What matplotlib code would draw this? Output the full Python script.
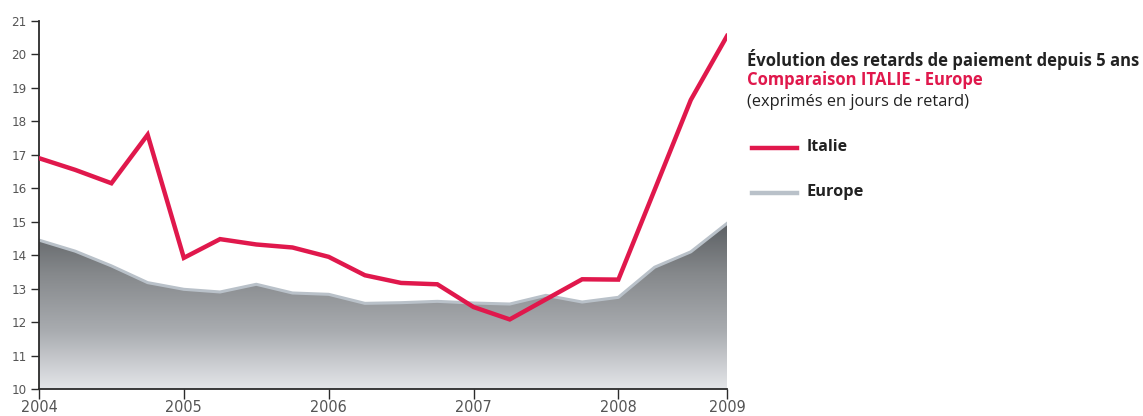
import numpy as np
import matplotlib
matplotlib.use("Agg")
import matplotlib.pyplot as plt
from matplotlib.colors import LinearSegmentedColormap

# quarterly readings, 2004 Q1 -> end of period
italie = [16.9, 16.55, 16.15, 17.6, 13.92, 14.48, 14.32, 14.23, 13.95, 13.4,
          13.17, 13.13, 12.45, 12.08, 12.68, 13.28, 13.27, 15.95, 18.64, 20.55]
europe = [14.45, 14.12, 13.68, 13.18, 12.98, 12.9, 13.13, 12.87, 12.83, 12.56,
          12.58, 12.62, 12.57, 12.54, 12.8, 12.6, 12.74, 13.64, 14.1, 14.95]
year_pos = [0, 4, 8, 12, 16, 19]
year_labels = ["2004", "2005", "2006", "2007", "2008", "2009"]
y_ticks = list(range(10, 22))

RED = "#e0184c"
EDGE = "#b9c1c9"
AXIS = "#2b2b2b"
plt.rcParams["font.family"] = ["Open Sans", "DejaVu Sans"]

fig = plt.figure(figsize=(11.43, 4.16), dpi=100)
ax = fig.add_axes([39 / 1143, 27 / 416, 688 / 1143, 368 / 416])

x = np.arange(len(italie))

# grey area for Europe with a vertical gradient
cmap = LinearSegmentedColormap.from_list("grey", ["#e4e6e9", "#a9acb0", "#85888b", "#55595d"])
grad = np.linspace(0, 1, 256).reshape(-1, 1)
poly = ax.fill_between(x, 10, europe, color="none", lw=0)
img = ax.imshow(grad, cmap=cmap, origin="lower", aspect="auto",
                extent=[x[0], x[-1], 10, 15.2], zorder=1)
img.set_clip_path(poly.get_paths()[0], transform=ax.transData)
ax.plot(x, europe, color=EDGE, lw=2.2, zorder=2, solid_joinstyle="round")

ax.plot(x, italie, color=RED, lw=3.2, zorder=3, solid_joinstyle="miter")

ax.set_xlim(0, 19)
ax.set_ylim(10, 21)
for side in ["top", "right"]:
    ax.spines[side].set_visible(False)
for side in ["left", "bottom"]:
    ax.spines[side].set_color(AXIS)
    ax.spines[side].set_linewidth(1.3)

tick_font = dict(family="DejaVu Sans", stretch="condensed", color="#555555")
ax.set_yticks(y_ticks)
ax.set_yticklabels([str(v) for v in y_ticks], fontsize=9.5, **tick_font)
ax.set_xticks(year_pos)
ax.set_xticklabels(year_labels, fontsize=11.5, **tick_font)
ax.tick_params(axis="y", length=6, width=1, color=AXIS, pad=3)
ax.tick_params(axis="x", length=7, width=1, color=AXIS, pad=1)

# title block and legend
fig.text(747 / 1143, 1 - 59 / 416, "Évolution des retards de paiement depuis 5 ans",
         fontsize=12, fontweight="bold", color="#222222", va="center")
fig.text(747 / 1143, 1 - 80 / 416, "Comparaison ITALIE - Europe",
         fontsize=12, fontweight="bold", color=RED, va="center")
fig.text(747 / 1143, 1 - 102 / 416, "(exprimés en jours de retard)",
         fontsize=11.8, color="#222222", va="center")

fig.add_artist(plt.Line2D([752 / 1143, 797 / 1143], [1 - 148 / 416] * 2, color=RED, lw=3.2))
fig.text(807 / 1143, 1 - 147 / 416, "Italie", fontsize=11.5, fontweight="bold",
         color="#222222", va="center")
fig.add_artist(plt.Line2D([752 / 1143, 797 / 1143], [1 - 193 / 416] * 2, color=EDGE, lw=3.2))
fig.text(807 / 1143, 1 - 192 / 416, "Europe", fontsize=11.8, fontweight="bold",
         color="#222222", va="center")

fig.savefig("out.png", dpi=100)
